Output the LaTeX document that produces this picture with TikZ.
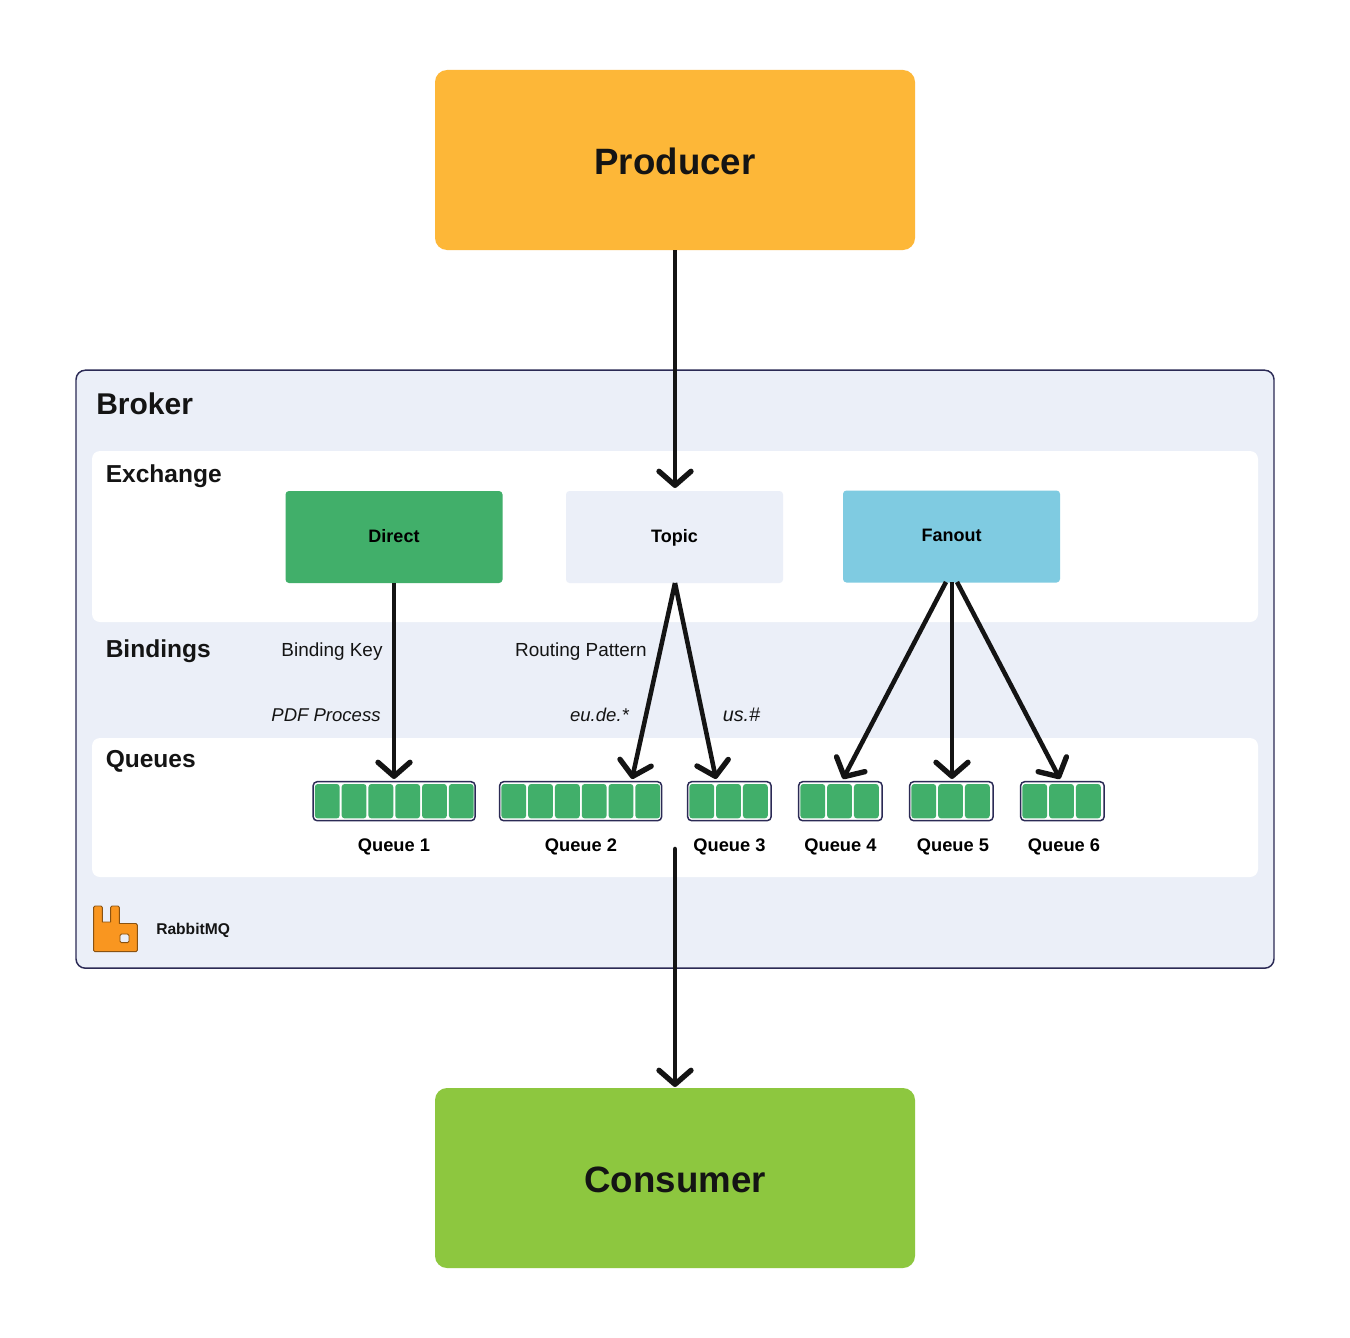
\documentclass[tikz,border=0pt]{standalone}
\usepackage{fontspec}
\setmainfont{Liberation Sans}
\usetikzlibrary{arrows.meta,calc}
\definecolor{ink}{HTML}{141414}
\definecolor{edgeblue}{HTML}{2B2A55}
\definecolor{panel}{HTML}{EBEFF8}
\definecolor{gold}{HTML}{FDB738}
\definecolor{leaf}{HTML}{8DC73F}
\definecolor{qgreen}{HTML}{41AF6A}
\definecolor{sky}{HTML}{7FCBE1}
\definecolor{rabbit}{HTML}{F99620}
\tikzset{
  x=0.75pt,y=-0.75pt,
  big/.style={draw=none,rounded corners=9pt,minimum width=360pt,minimum height=135pt,inner sep=0pt,text=ink,text height=21.2pt,text depth=0pt,font=\fontsize{27.5}{30}\selectfont\bfseries},
  band/.style={fill=white,rounded corners=6pt},
  ex/.style={rounded corners=2.6pt,minimum width=162.75pt,minimum height=69pt,inner sep=0pt,text=black,text height=8.2pt,text depth=0pt,font=\fontsize{13.5}{16}\selectfont\bfseries},
  frameq/.style={draw=edgeblue,line width=1.1pt,fill=white,rounded corners=3pt,minimum height=29.25pt,inner sep=0pt},
  cellq/.style={fill=qgreen,rounded corners=2.2pt,minimum width=18.6pt,minimum height=25.8pt,inner sep=0pt},
  qlabel/.style={text=black,inner sep=0pt,font=\fontsize{13.7}{16}\selectfont\bfseries},
  head/.style={text=ink,inner sep=0pt,anchor=west,font=\fontsize{18.4}{22}\selectfont\bfseries},
  small/.style={text=ink,inner sep=0pt,font=\fontsize{14.2}{16}\selectfont},
  smallit/.style={text=ink,inner sep=0pt,font=\fontsize{13.9}{16}\selectfont\itshape},
  flow/.style={draw=ink,line width=3.4pt,-{Straight Barb[length=10.5pt,width=24pt,line width=4pt,round]}},
}
\newcommand{\queuebox}[4]{% name, left x, cells, width px
  \node[frameq,minimum width=#4*0.75pt,anchor=west] (#1) at (#2,801.2) {};
  \foreach \i in {1,...,#3} {
    \node[cellq,anchor=west] (#1c\i) at ({#2+2.2+(\i-1)*26.8},801.2) {};
  }
}
\begin{document}
\begin{tikzpicture}
\useasboundingbox (0,0) rectangle (1350,1338);
\fill[white] (0,0) rectangle (1350,1338);
% broker panel
\node[draw=edgeblue,line width=1.1pt,fill=panel,rounded corners=7pt,minimum width=898.5pt,minimum height=448.5pt,inner sep=0pt] (broker) at (675,669.2) {};
\node[band,minimum width=874.5pt,minimum height=128.25pt,inner sep=0pt] (exband) at (675,536.5) {};
\node[band,minimum width=874.5pt,minimum height=104.25pt,inner sep=0pt] (qband) at (675,807.5) {};
% main boxes
\node[big,fill=gold] (producer) at (675,160) {Producer};
\node[big,fill=leaf] (consumer) at (675,1178) {Consumer};
% headings
\node[head,font=\fontsize{22.5}{26}\selectfont\bfseries] (tbroker) at (96,404) {Broker};
\node[head] (texchange) at (105.5,476.5) {Exchange};
\node[head] (tbindings) at (105.5,651.5) {Bindings};
\node[head] (tqueues) at (105.5,761) {Queues};
% exchanges
\node[ex,fill=qgreen] (direct) at (394,537) {Direct};
\node[ex,fill=panel] (topic) at (674.5,537) {Topic};
\node[ex,fill=sky] (fanout) at (951.5,536.5) {Fanout};
% labels
\node[small] (bk) at (332,651.5) {Binding Key};
\node[small] (rp) at (581,651.5) {Routing Pattern};
\node[smallit] (pdf) at (326,715) {PDF Process};
\node[smallit] (eu) at (599.5,715) {eu.de.*};
\node[smallit,font=\fontsize{14.8}{16}\selectfont\itshape] (us) at (741.5,715) {us.\#};
% queues
\queuebox{qa}{312.4}{6}{162}
\queuebox{qb}{498.9}{6}{162}
\queuebox{qc}{686.9}{3}{83.5}
\queuebox{qd}{797.9}{3}{83.5}
\queuebox{qe}{908.9}{3}{83.5}
\queuebox{qf}{1019.9}{3}{83.5}
\node[qlabel] (la) at (394,847) {Queue 1};
\node[qlabel] (lb) at (581,847) {Queue 2};
\node[qlabel] (lc) at (729.5,847) {Queue 3};
\node[qlabel] (ld) at (840.5,847) {Queue 4};
\node[qlabel] (le) at (953,847) {Queue 5};
\node[qlabel] (lf) at (1064,847) {Queue 6};
% logo
\path[fill=rabbit,draw=black!45!rabbit,line width=.7pt,line join=round,even odd rule]
  (95,906) -- (101,906) -- (102.3,907.3) -- (102.3,922) -- (110.7,922) -- (110.7,907.3) -- (112,906) -- (118,906) -- (119.3,907.3) -- (119.3,923.5) -- (136,923.5) -- (137.3,925) -- (137.3,950.3) -- (136,951.7) -- (95,951.7) -- (93.6,950.3) -- (93.6,907.3) -- cycle
  (121.5,934) -- (127.5,934) -- (129,935.5) -- (129,941.2) -- (127.5,942.7) -- (121.5,942.7) -- (120,941.2) -- (120,935.5) -- cycle;
\node[text=ink,inner sep=0pt,anchor=west,font=\fontsize{11.7}{14}\selectfont\bfseries] (trabbit) at (156,930.5) {RabbitMQ};
% connector ends
\coordinate (dirout) at (394,583);
\coordinate (topout) at (675,583);
\coordinate (fanl) at (946,582);
\coordinate (fanm) at (952,582);
\coordinate (fanr) at (957,582);
\coordinate (ina) at (394,779);
\coordinate (inb) at (632,779);
\coordinate (inc) at (716,779);
\coordinate (ind) at (843,779);
\coordinate (ine) at (952,779);
\coordinate (inf) at (1060,779);
\coordinate (qout) at (675,849);
\coordinate (prodin) at (675,488);
\coordinate (consin) at (675,1087);
% connectors
\draw[flow] (producer.south) -- (prodin);
\draw[flow] (dirout) -- (ina);
\draw[flow] (topout) -- (inb);
\draw[flow] (topout) -- (inc);
\draw[flow] (fanl) -- (ind);
\draw[flow] (fanm) -- (ine);
\draw[flow] (fanr) -- (inf);
\draw[flow,line cap=round] (qout) -- (consin);
\end{tikzpicture}
\end{document}
